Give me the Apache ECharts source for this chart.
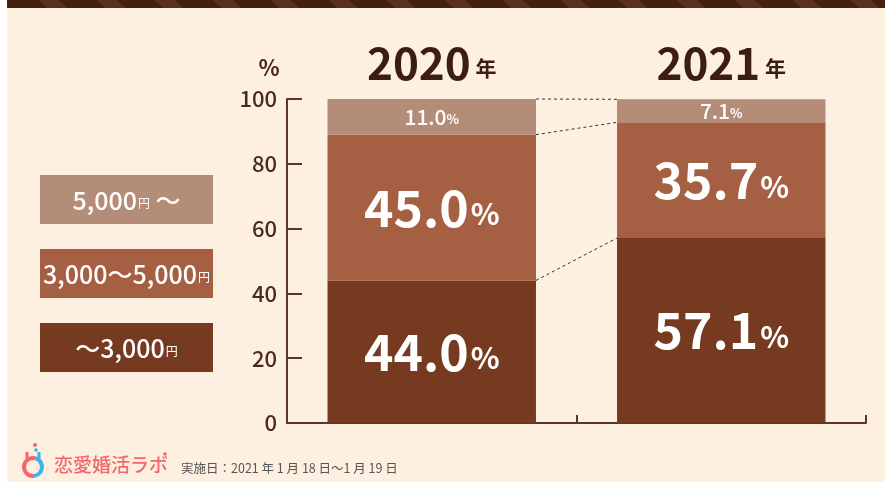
<!DOCTYPE html>
<html>
<head>
<meta charset="utf-8">
<script src="https://cdn.jsdelivr.net/npm/echarts@6/dist/echarts.min.js"></script>
<style>
html,body{margin:0;padding:0;background:#fff;}
#chart{width:885px;height:482px;}
</style>
</head>
<body>
<div id="chart"></div>
<script>
// ---- data ----
const years = ['2020', '2021'];
const seriesNames = ['〜3,000円', '3,000〜5,000円', '5,000円〜'];
const low = [44.0, 57.1];      // 〜3,000円
const mid = [45.0, 35.7];      // 3,000〜5,000円
const high = [11.0, 7.1];      // 5,000円〜
const yTicks = [0, 20, 40, 60, 80, 100];
const colors = ['#763A20', '#A55F42', '#B48D79'];
const surveyText = '実施日：2021 年 1 月 18 日〜1 月 19 日';
const brandText = '恋愛婚活ラボ';

const FONT = "'Noto Sans CJK JP', 'Noto Sans', sans-serif";
const values = [low, mid, high];

// connector levels (cumulative tops of each stacked segment)
const connectors = [];
let c0 = 0, c1 = 0;
values.forEach(v => { c0 += v[0]; c1 += v[1]; connectors.push([0, c0, c1]); });

const chart = echarts.init(document.getElementById('chart'));

function labelFor(i) {
  const big = i < 2;
  return {
    show: true,
    position: 'inside',
    formatter: p => '{n|' + p.value.toFixed(1) + '}{u|%}',
    rich: {
      n: { fontFamily: FONT, fontWeight: big ? 'bold' : 500, color: '#fff', fontSize: big ? 50 : 21, padding: big ? [0, 2, 0, 0] : 0 },
      u: { fontFamily: FONT, fontWeight: 'bold', color: '#fff', fontSize: big ? 30 : 13, padding: big ? [12, 0, 0, 0] : [4, 0, 0, 0] }
    }
  };
}

const barSeries = values.map((v, i) => ({
  name: seriesNames[i],
  type: 'bar',
  stack: 'total',
  barWidth: '72%',
  data: v,
  itemStyle: { color: colors[i] },
  label: labelFor(i),
  z: 3
}));

// legend boxes (top to bottom: high, mid, low)
const legendOrder = [2, 1, 0];
const legendGraphics = [];
legendOrder.forEach((si, k) => {
  const top = 175 + k * 74;
  const name = seriesNames[si];
  const rich = name.split(/(円)/).filter(s => s).map(s => s === '円' ? '{y|円}' : '{d|' + s.replace('〜', si === 2 ? ' 〜' : '〜') + '}').join('');
  legendGraphics.push({
    type: 'rect', left: 40, top: top, shape: { width: 173, height: 49 },
    style: { fill: colors[si] }, z: 10
  });
  legendGraphics.push({
    type: 'text', x: 40 + 86.5, y: top + 25, z: 11,
    style: {
      text: rich, align: 'center', verticalAlign: 'middle', fill: '#fff',
      rich: {
        d: { fontFamily: FONT, fontSize: 25, fontWeight: 500, fill: '#fff' },
        y: { fontFamily: FONT, fontSize: 12, fill: '#fff', padding: [6, 0, 0, 1] }
      }
    }
  });
});

// top stripe band
const stripeGraphics = [{
  type: 'rect', shape: { x: 7, y: 0, width: 878, height: 8 }, style: { fill: '#43210F' }, z: 20
}];
for (let x = -20; x < 900; x += 58) {
  stripeGraphics.push({
    type: 'polygon', z: 21,
    shape: { points: [[x, 0], [x + 20, 0], [x + 30, 8], [x + 10, 8]] },
    style: { fill: '#5B3023' }
  });
}

const option = {
  backgroundColor: '#FDF0E0',
  animation: false,
  grid: { left: 287, right: 19, top: 99, bottom: 59 },
  xAxis: [{
    type: 'category', data: years, position: 'bottom',
    axisLine: { show: true, lineStyle: { color: '#5B362A', width: 2 } },
    axisTick: { show: true, inside: true, length: 8, lineStyle: { color: '#5B362A', width: 2 } },
    axisLabel: { show: false }, splitLine: { show: false }
  }, {
    type: 'category', data: years, position: 'top',
    axisLine: { show: false }, axisTick: { show: false },
    axisLabel: {
      show: true, margin: 14,
      formatter: v => '{y|' + v + '}{n| 年}',
      rich: {
        y: { fontFamily: FONT, fontWeight: 'bold', fontSize: 44, color: '#3B1E10' },
        n: { fontFamily: FONT, fontWeight: 'bold', fontSize: 21, color: '#3B1E10', padding: [10, 0, 0, 0] }
      }
    }
  }],
  yAxis: {
    type: 'value', min: yTicks[0], max: yTicks[yTicks.length - 1], interval: yTicks[1] - yTicks[0],
    name: '%', nameLocation: 'end', nameGap: 20,
    nameTextStyle: { fontFamily: FONT, fontSize: 22, fontWeight: 'bold', color: '#4A2A1E', padding: [0, 36, 0, 0] },
    axisLine: { show: true, lineStyle: { color: '#5B362A', width: 2 } },
    axisTick: { show: true, inside: true, length: 15, lineStyle: { color: '#5B362A', width: 2 } },
    axisLabel: { fontFamily: FONT, fontSize: 22, fontWeight: 500, color: '#4A2A1E', margin: 10 },
    splitLine: { show: false }
  },
  series: barSeries.concat([{
    type: 'custom', name: 'connector', xAxisIndex: 0, yAxisIndex: 0,
    encode: { x: 0, y: [1, 2] },
    data: connectors, z: 5,
    renderItem: (params, api) => {
      const p1 = api.coord([0, api.value(1)]);
      const p2 = api.coord([1, api.value(2)]);
      const bw = api.size([1, 0])[0] * 0.72;
      return {
        type: 'line',
        shape: { x1: p1[0] + bw / 2, y1: p1[1], x2: p2[0] - bw / 2, y2: p2[1] },
        style: { stroke: '#333', lineWidth: 1, lineDash: [3, 3] }
      };
    }
  }]),
  graphic: [
    { type: 'rect', shape: { x: 0, y: 0, width: 7, height: 482 }, style: { fill: '#fff' }, z: 30 },
    ...stripeGraphics,
    ...legendGraphics,
    // brand logo (flask)
    { type: 'arc', shape: { cx: 33, cy: 467, r: 9, startAngle: Math.PI / 2, endAngle: Math.PI * 1.5 + 0.3, clockwise: true }, style: { stroke: '#F5666C', lineWidth: 4, fill: null }, z: 12 },
    { type: 'arc', shape: { cx: 33, cy: 467, r: 9, startAngle: -Math.PI / 2 + 0.3, endAngle: Math.PI / 2, clockwise: true }, style: { stroke: '#3DB3E6', lineWidth: 4, fill: null }, z: 12 },
    { type: 'line', shape: { x1: 27, y1: 452, x2: 27, y2: 460 }, style: { stroke: '#F5666C', lineWidth: 3 }, z: 12 },
    { type: 'line', shape: { x1: 39, y1: 452, x2: 39, y2: 460 }, style: { stroke: '#3DB3E6', lineWidth: 3 }, z: 12 },
    { type: 'circle', shape: { cx: 35, cy: 445, r: 2 }, style: { fill: '#F5666C' }, z: 12 },
    { type: 'circle', shape: { cx: 36, cy: 450, r: 1.8 }, style: { fill: '#3DB3E6' }, z: 12 },
    { type: 'text', x: 54, y: 465, z: 12, style: { text: brandText, fontFamily: FONT, fontSize: 19, fontWeight: 500, fill: '#F5666C', verticalAlign: 'middle' } },
    { type: 'circle', shape: { cx: 165, cy: 454, r: 1.8 }, style: { fill: '#F5666C' }, z: 12 },
    { type: 'text', x: 181, y: 468, z: 12, style: { text: surveyText, fontFamily: FONT, fontSize: 12.5, fill: '#555', verticalAlign: 'middle' } }
  ]
};
chart.setOption(option);
</script>
</body>
</html>
